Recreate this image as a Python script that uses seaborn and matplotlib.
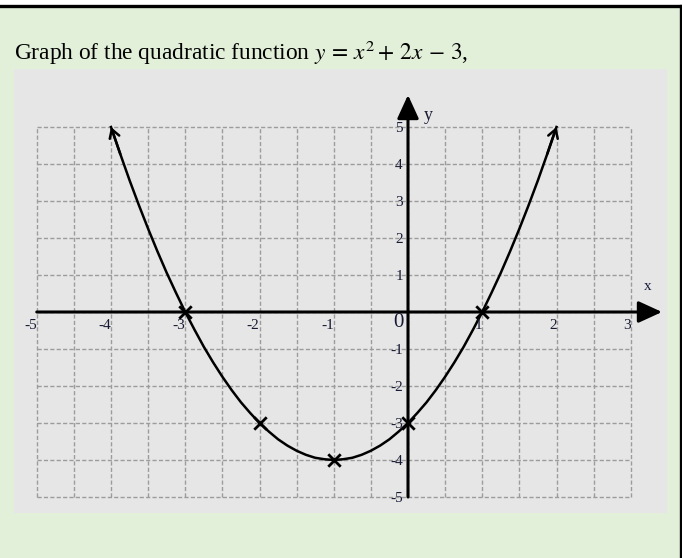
import matplotlib
matplotlib.use("Agg")
import matplotlib.pyplot as plt
import seaborn as sns
import pandas as pd
from matplotlib.lines import Line2D
from matplotlib.patches import Rectangle

# ---- data ----
curve_x = [-4, -3.875, -3.75, -3.625, -3.5, -3.375, -3.25, -3.125, -3,
           -2.875, -2.75, -2.625, -2.5, -2.375, -2.25, -2.125, -2,
           -1.875, -1.75, -1.625, -1.5, -1.375, -1.25, -1.125, -1,
           -0.875, -0.75, -0.625, -0.5, -0.375, -0.25, -0.125, 0,
           0.125, 0.25, 0.375, 0.5, 0.625, 0.75, 0.875, 1,
           1.125, 1.25, 1.375, 1.5, 1.625, 1.75, 1.875, 2]
curve_y = [5, 4.27, 3.56, 2.89, 2.25, 1.64, 1.06, 0.52, 0,
           -0.48, -0.94, -1.36, -1.75, -2.11, -2.44, -2.73, -3,
           -3.23, -3.44, -3.61, -3.75, -3.86, -3.94, -3.98, -4,
           -3.98, -3.94, -3.86, -3.75, -3.61, -3.44, -3.23, -3,
           -2.73, -2.44, -2.11, -1.75, -1.36, -0.94, -0.48, 0,
           0.52, 1.06, 1.64, 2.25, 2.89, 3.56, 4.27, 5]
point_x = [-3, -2, -1, 0, 1]
point_y = [0, -3, -4, -3, 0]
x_ticks = [-5, -4, -3, -2, -1, 1, 2, 3]
x_tick_labels = ["-5", "-4", "-3", "-2", "-1", "1", "2", "3"]
y_ticks = [5, 4, 3, 2, 1, -1, -2, -3, -4, -5]
y_tick_labels = ["5", "4", "3", "2", "1", "-1", "-2", "-3", "-4", "-5"]
title_text = "Graph of the quadratic function $y\\,=\\,x^2+\\,2x\\,-\\,3$,"

W, H = 682, 558
fig = plt.figure(figsize=(W / 100, H / 100), dpi=100)
fig.patch.set_facecolor("white")

# green card with top/right border
fig.add_artist(Rectangle((0, 0), 680 / W, 1 - 6 / H, transform=fig.transFigure,
                         facecolor="#e2efd9", edgecolor="none", zorder=0))
fig.add_artist(Line2D([0, 681 / W], [1 - 5.5 / H, 1 - 5.5 / H], transform=fig.transFigure,
                      color="black", lw=2.4))
fig.add_artist(Line2D([680.5 / W, 680.5 / W], [0, 1 - 5.5 / H], transform=fig.transFigure,
                      color="black", lw=2.4))

plt.rcParams["mathtext.fontset"] = "stix"
fig.text(14 / W, 1 - 60 / H, title_text, fontsize=16.8, family="Liberation Serif",
         va="baseline", ha="left", color="black")

# gray panel = axes
pl, pr, pt, pb = 14, 667, 69, 513
ax = fig.add_axes([pl / W, 1 - pb / H, (pr - pl) / W, (pb - pt) / H])
ax.set_facecolor("#e6e6e6")
for s in ax.spines.values():
    s.set_visible(False)
ax.set_xticks([])
ax.set_yticks([])
ux, uy = 74.25, 37.0
x0, y0 = 408, 312
ax.set_xlim((pl - x0) / ux, (pr - x0) / ux)
ax.set_ylim((y0 - pb) / uy, (y0 - pt) / uy)

# dashed grid
gc = "#9c9c9c"
vx = [v / 2 for v in range(-10, 7)]
hy = list(range(-5, 6))
ax.vlines(vx, -5, 5, colors=gc, linestyles=(0, (3, 1.6)), lw=1.0, zorder=1)
ax.hlines(hy, -5, 3, colors=gc, linestyles=(0, (3, 1.6)), lw=1.0, zorder=1)

# axes with arrows
ax.annotate("", xy=((662 - x0) / ux, 0), xytext=(-5, 0),
            arrowprops=dict(arrowstyle="-|>,head_length=1.2,head_width=0.55",
                            mutation_scale=12, lw=2.2, color="black",
                            shrinkA=0, shrinkB=0), zorder=3)
ax.annotate("", xy=(0, (y0 - 95) / uy), xytext=(0, -5),
            arrowprops=dict(arrowstyle="-|>,head_length=1.2,head_width=0.55",
                            mutation_scale=12, lw=2.2, color="black",
                            shrinkA=0, shrinkB=0), zorder=3)

# curve
df = pd.DataFrame({"x": curve_x, "y": curve_y})
sns.lineplot(data=df, x="x", y="y", ax=ax, color="black", lw=1.8, sort=False,
             estimator=None, zorder=4)
# end arrow heads
for (xa, ya), (xb, yb) in [((curve_x[1], curve_y[1]), (curve_x[0], curve_y[0])),
                           ((curve_x[-2], curve_y[-2]), (curve_x[-1], curve_y[-1]))]:
    ax.annotate("", xy=(xb, yb), xytext=(xa, ya),
                arrowprops=dict(arrowstyle="->,head_length=0.5,head_width=0.3",
                                mutation_scale=12, lw=1.8, color="black",
                                shrinkA=0, shrinkB=0), zorder=4)

pts = pd.DataFrame({"x": point_x, "y": point_y})
sns.scatterplot(data=pts, x="x", y="y", ax=ax, marker="x", s=80, color="black",
                linewidth=2, zorder=5)
ax.set_xlabel("")
ax.set_ylabel("")
ax.set_xlim((pl - x0) / ux, (pr - x0) / ux)
ax.set_ylim((y0 - pb) / uy, (y0 - pt) / uy)

lc = "#161a33"
for v, t in zip(x_ticks, x_tick_labels):
    ax.text(v + 0.0, -0.36, t, ha="right", va="center", fontsize=11,
            family="Liberation Serif", color=lc, zorder=6)
ax.text(-0.06, -0.28, "0", ha="right", va="center", fontsize=15,
        family="Liberation Serif", color=lc, zorder=6)
for v, t in zip(y_ticks, y_tick_labels):
    ax.text(-0.07, v - 0.03, t, ha="right", va="center", fontsize=11,
            family="Liberation Serif", color=lc, zorder=6)
ax.text((648 - x0) / ux, (y0 - 287) / uy, "x", ha="center", va="center", fontsize=11,
        family="Liberation Serif", color=lc)
ax.text((428 - x0) / ux, (y0 - 115) / uy, "y", ha="center", va="center", fontsize=13,
        family="Liberation Serif", color=lc)

fig.savefig("out.png", dpi=100)
